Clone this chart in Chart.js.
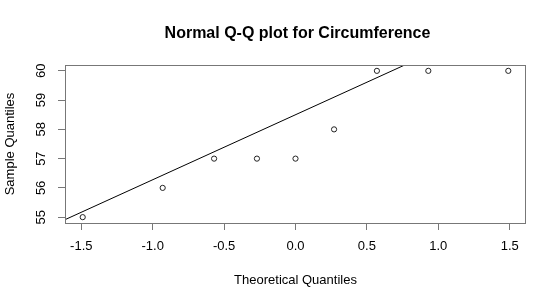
<!DOCTYPE html>
<html>
<head>
  <title>Normal Q-Q plot</title>
  <script src="https://cdn.jsdelivr.net/npm/chart.js"></script>
  <style>
    body { margin: 0; background: #fff; }
  </style>
</head>
<body>
  <canvas id="qqChart" width="560" height="305"></canvas>

  <script>
    // data
    const theoQuantiles = [-1.49, -0.93, -0.57, -0.27, 0, 0.27, 0.57, 0.93, 1.49];
    const sampleQuantiles = [55, 56, 57, 57, 57, 58, 60, 60, 60];
    const refLineX = [-1.62, 1.62];
    const refLineY = [54.9, 62.1];
    const xTicks = [-1.5, -1.0, -0.5, 0.0, 0.5, 1.0, 1.5];
    const yTicks = [55, 56, 57, 58, 59, 60];
    const chartTitle = 'Normal Q-Q plot for Circumference';

    const axisGray = '#777';
    const font = 'Liberation Sans, Arial, sans-serif';

    // draws the R style box and the main title
    const boxAndTitle = {
      id: 'boxAndTitle',
      afterDatasetsDraw(chart) {
        const { ctx, chartArea } = chart;
        ctx.save();
        ctx.strokeStyle = axisGray;
        ctx.lineWidth = 1;
        ctx.strokeRect(chartArea.left + 0.5, chartArea.top + 0.5,
          chartArea.right - chartArea.left - 1, chartArea.bottom - chartArea.top);
        ctx.fillStyle = '#000';
        ctx.font = 'bold 16px ' + font;
        ctx.textAlign = 'center';
        ctx.textBaseline = 'alphabetic';
        ctx.fillText(chartTitle, (chartArea.left + chartArea.right) / 2 + 2, 38);
        ctx.restore();
      }
    };

    const points = theoQuantiles.map((x, i) => ({ x: x, y: sampleQuantiles[i] }));
    const linePts = refLineX.map((x, i) => ({ x: x, y: refLineY[i] }));

    const qqChart = new Chart(document.getElementById('qqChart').getContext('2d'), {
      type: 'scatter',
      data: {
        datasets: [
          {
            data: linePts,
            showLine: true,
            borderColor: '#000',
            borderWidth: 1,
            pointRadius: 0,
            fill: false,
          },
          {
            data: points,
            borderColor: '#222',
            backgroundColor: 'rgba(0, 0, 0, 0)',
            borderWidth: 1,
            pointRadius: 2.6,
          },
        ],
      },
      options: {
        responsive: false,
        animation: false,
        devicePixelRatio: 1,
        layout: { padding: { top: 65, right: 34, bottom: 0, left: 0 } },
        plugins: {
          legend: { display: false },
          tooltip: { enabled: false },
          title: { display: false },
        },
        scales: {
          x: {
            type: 'linear',
            position: 'bottom',
            min: -1.614,
            max: 1.614,
            afterBuildTicks: (scale) => { scale.ticks = xTicks.map(v => ({ value: v })); },
            afterFit: (scale) => { scale.height = 82; },
            grid: { drawOnChartArea: false, tickLength: 7, color: axisGray },
            border: { display: false },
            ticks: {
              color: '#000',
              font: { family: font, size: 13 },
              padding: 9,
              maxRotation: 0,
              callback: (v) => Number(v).toFixed(1),
            },
            title: {
              display: true,
              text: 'Theoretical Quantiles',
              color: '#000',
              font: { family: font, size: 13 },
              padding: { top: 0, bottom: 17 },
            },
          },
          y: {
            type: 'linear',
            position: 'left',
            min: 54.8,
            max: 60.2,
            afterBuildTicks: (scale) => { scale.ticks = yTicks.map(v => ({ value: v })); },
            afterFit: (scale) => { scale.width = 65; },
            grid: { drawOnChartArea: false, tickLength: 7, color: axisGray },
            border: { display: false },
            ticks: {
              color: '#000',
              font: { family: font, size: 13 },
              padding: 9,
              minRotation: 90,
              maxRotation: 90,
              crossAlign: 'center',
              callback: (v) => String(v),
            },
            title: {
              display: true,
              text: 'Sample Quantiles',
              color: '#000',
              font: { family: font, size: 13 },
              padding: { top: 3, bottom: 0 },
            },
          },
        },
      },
      plugins: [boxAndTitle],
    });
  </script>
</body>
</html>
